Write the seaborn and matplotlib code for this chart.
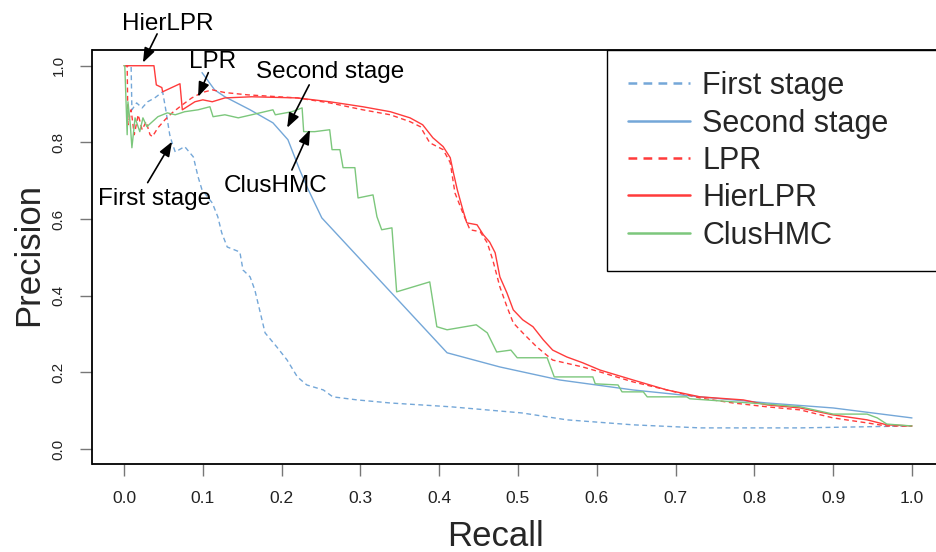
import matplotlib
matplotlib.use("Agg")
import matplotlib.pyplot as plt
from matplotlib.lines import Line2D
import numpy as np
import pandas as pd
import seaborn as sns

# ---------------- data ----------------
first_recall = [0.0, 0.009, 0.010, 0.016, 0.023, 0.030, 0.039, 0.049, 0.053, 0.058, 0.061,
                0.065, 0.077, 0.088, 0.094, 0.099, 0.112, 0.119, 0.124, 0.131, 0.147, 0.151,
                0.160, 0.166, 0.173, 0.179, 0.194, 0.207, 0.220, 0.232, 0.253, 0.265, 0.296,
                0.338, 0.415, 0.505, 0.562, 0.646, 0.731, 0.858, 1.0]
first_prec = [1.0, 1.0, 0.885, 0.903, 0.890, 0.906, 0.916, 0.932, 0.885, 0.820, 0.799,
              0.775, 0.789, 0.762, 0.710, 0.676, 0.642, 0.606, 0.564, 0.527, 0.514, 0.467,
              0.449, 0.415, 0.355, 0.303, 0.266, 0.232, 0.188, 0.167, 0.154, 0.136, 0.128,
              0.120, 0.110, 0.094, 0.076, 0.063, 0.055, 0.055, 0.060]

second_recall = [0.099, 0.115, 0.128, 0.160, 0.189, 0.208, 0.223, 0.234, 0.251, 0.410,
                 0.477, 0.553, 0.646, 0.731, 0.816, 0.900, 1.0]
second_prec = [0.982, 0.937, 0.919, 0.885, 0.851, 0.807, 0.728, 0.676, 0.603, 0.251,
               0.214, 0.180, 0.154, 0.136, 0.120, 0.107, 0.081]

lpr_recall = [0.0, 0.004, 0.005, 0.009, 0.013, 0.018, 0.023, 0.028, 0.033, 0.036, 0.043,
              0.052, 0.061, 0.074, 0.086, 0.099, 0.112, 0.128, 0.157, 0.220, 0.261, 0.303,
              0.338, 0.363, 0.376, 0.388, 0.405, 0.414, 0.420, 0.430, 0.439, 0.452, 0.461,
              0.468, 0.477, 0.486, 0.494, 0.506, 0.524, 0.544, 0.582, 0.604, 0.646, 0.689,
              0.731, 0.773, 0.816, 0.858, 0.900, 0.943, 0.968, 1.0]
lpr_prec = [1.0, 1.0, 0.846, 0.885, 0.820, 0.872, 0.833, 0.854, 0.820, 0.815, 0.838,
            0.859, 0.877, 0.898, 0.916, 0.930, 0.937, 0.930, 0.924, 0.916, 0.903, 0.885,
            0.872, 0.854, 0.841, 0.799, 0.781, 0.747, 0.668, 0.616, 0.572, 0.567, 0.538,
            0.493, 0.423, 0.371, 0.329, 0.303, 0.266, 0.232, 0.214, 0.201, 0.175, 0.154,
            0.133, 0.120, 0.110, 0.102, 0.081, 0.068, 0.060, 0.060]

hier_recall = [0.0, 0.038, 0.041, 0.048, 0.049, 0.071, 0.074, 0.090, 0.100, 0.112, 0.128,
               0.162, 0.220, 0.261, 0.303, 0.338, 0.363, 0.379, 0.392, 0.405, 0.414, 0.418,
               0.423, 0.430, 0.435, 0.448, 0.456, 0.464, 0.471, 0.477, 0.486, 0.494, 0.506,
               0.519, 0.532, 0.544, 0.562, 0.582, 0.604, 0.646, 0.689, 0.731, 0.786, 0.816,
               0.858, 0.900, 0.943, 0.968, 1.0]
hier_prec = [1.0, 1.0, 0.950, 0.943, 0.932, 0.953, 0.885, 0.906, 0.911, 0.906, 0.916,
             0.919, 0.916, 0.906, 0.893, 0.880, 0.864, 0.846, 0.812, 0.789, 0.760, 0.721,
             0.676, 0.624, 0.590, 0.585, 0.559, 0.540, 0.512, 0.449, 0.407, 0.363, 0.337,
             0.319, 0.285, 0.258, 0.240, 0.225, 0.206, 0.180, 0.154, 0.136, 0.128, 0.115,
             0.107, 0.089, 0.076, 0.063, 0.060]

clus_recall = [0.0, 0.001, 0.004, 0.005, 0.008, 0.010, 0.014, 0.020, 0.024, 0.029, 0.036,
               0.043, 0.055, 0.065, 0.077, 0.094, 0.109, 0.113, 0.128, 0.145, 0.162, 0.189,
               0.192, 0.213, 0.226, 0.228, 0.242, 0.261, 0.264, 0.274, 0.278, 0.293, 0.297,
               0.316, 0.321, 0.327, 0.340, 0.346, 0.388, 0.397, 0.410, 0.447, 0.461, 0.473,
               0.491, 0.499, 0.537, 0.546, 0.595, 0.598, 0.627, 0.632, 0.659, 0.664, 0.714,
               0.718, 0.773, 0.816, 0.858, 0.900, 0.943, 0.956, 0.968, 1.0]
clus_prec = [1.0, 1.0, 0.820, 0.906, 0.846, 0.786, 0.864, 0.828, 0.864, 0.841, 0.854,
             0.867, 0.877, 0.872, 0.880, 0.885, 0.893, 0.867, 0.872, 0.864, 0.872, 0.885,
             0.872, 0.880, 0.890, 0.828, 0.828, 0.833, 0.781, 0.781, 0.734, 0.734, 0.655,
             0.663, 0.606, 0.572, 0.577, 0.410, 0.436, 0.319, 0.311, 0.324, 0.303, 0.253,
             0.258, 0.238, 0.238, 0.188, 0.188, 0.170, 0.167, 0.149, 0.149, 0.136, 0.136,
             0.131, 0.123, 0.117, 0.110, 0.091, 0.091, 0.081, 0.065, 0.060]

series_names = ["First stage", "Second stage", "LPR", "HierLPR", "ClusHMC"]
x_ticks = [0.0, 0.1, 0.2, 0.3, 0.4, 0.5, 0.6, 0.7, 0.8, 0.9, 1.0]
y_ticks = [0.0, 0.2, 0.4, 0.6, 0.8, 1.0]

# ---------------- styling ----------------
BLUE = "#74A7D8"
RED = "#FF3B3B"
GREEN = "#7CC77C"
styles = {
    "First stage": (BLUE, (0, (3.5, 2.5))),
    "Second stage": (BLUE, "-"),
    "LPR": (RED, (0, (3.5, 2.5))),
    "HierLPR": (RED, "-"),
    "ClusHMC": (GREEN, "-"),
}
data = {
    "First stage": (first_recall, first_prec),
    "Second stage": (second_recall, second_prec),
    "LPR": (lpr_recall, lpr_prec),
    "HierLPR": (hier_recall, hier_prec),
    "ClusHMC": (clus_recall, clus_prec),
}

sns.set_style("ticks")
plt.rcParams["font.family"] = ["Liberation Sans", "DejaVu Sans"]

W, H = 937, 552
fig = plt.figure(figsize=(W / 100, H / 100), dpi=100)
ax_left, ax_right, ax_top, ax_bot = 92.5, 943.5, 50.4, 464.3
AW, AH = ax_right - ax_left, ax_bot - ax_top
ax = fig.add_axes([ax_left / W, 1 - ax_bot / H, AW / W, AH / H])

for name in series_names:
    r, p = data[name]
    df = pd.DataFrame({"Recall": r, "Precision": p})
    col, ls = styles[name]
    sns.lineplot(data=df, x="Recall", y="Precision", ax=ax, sort=False, estimator=None,
                 color=col, linestyle=ls, linewidth=1.0, legend=False)

ax.set_xlim(-0.04, 1.04)
ax.set_ylim(-0.04, 1.04)
ax.set_xticks(x_ticks)
ax.set_xticklabels([f"{t:.1f}" for t in x_ticks])
ax.set_yticks(y_ticks)
ax.set_yticklabels([f"{t:.1f}" for t in y_ticks])
for s in ax.spines.values():
    s.set_visible(True)
    s.set_color("black")
    s.set_linewidth(1.3)
ax.grid(False)
ax.tick_params(axis="both", direction="out", length=8.6, width=1.0, color="#777777",
               labelcolor="#222222", pad=10.8)
ax.tick_params(axis="x", labelsize=12.5)
ax.tick_params(axis="y", labelsize=11)
for lab in ax.get_yticklabels():
    lab.set_rotation(90)
    lab.set_va("center")
    lab.set_ha("right")

ax.set_xlabel("Recall", fontsize=25)
ax.set_ylabel("Precision", fontsize=25)
ax.xaxis.set_label_coords((495 - ax_left) / AW, -(520 - ax_bot) / AH)
ax.yaxis.set_label_coords(-(ax_left - 45.5) / AW, (ax_bot - 255) / AH)

# legend
handles = [Line2D([0], [0], color=styles[n][0], linestyle=styles[n][1], linewidth=1.8) for n in series_names]
leg_left = (607 - ax_left) / AW
leg_h = (267 - ax_top) / AH
leg = ax.legend(handles, series_names, loc="upper left",
                bbox_to_anchor=(leg_left, 1 - leg_h, 1 - leg_left, leg_h), mode="expand",
                borderaxespad=0, fontsize=22, frameon=True, fancybox=False, framealpha=1,
                edgecolor="black", handlelength=2.03, handletextpad=0.4, borderpad=0.68,
                labelspacing=0.24)
leg.get_frame().set_linewidth(1.0)

# annotations: (label, text position, arrow tail, arrow head)
annotations = [
    ("HierLPR", (0.055, 1.109), (0.042, 1.083), (0.024, 1.008)),
    ("LPR", (0.112, 1.010), (0.107, 0.982), (0.094, 0.919)),
    ("Second stage", (0.261, 0.984), (0.235, 0.950), (0.207, 0.838)),
    ("ClusHMC", (0.193, 0.687), (0.213, 0.728), (0.236, 0.833)),
    ("First stage", (0.039, 0.653), (0.030, 0.695), (0.061, 0.802)),
]
for text, tpos, tail, head in annotations:
    ax.annotate("", xy=head, xytext=tail, annotation_clip=False,
                arrowprops=dict(arrowstyle="-|>,head_length=0.8,head_width=0.3",
                                color="black", lw=1.2, mutation_scale=11,
                                shrinkA=0, shrinkB=0))
    ax.text(tpos[0], tpos[1], text, ha="center", va="center", fontsize=17.5,
            color="black", clip_on=False)

fig.savefig("out.png", dpi=100)
